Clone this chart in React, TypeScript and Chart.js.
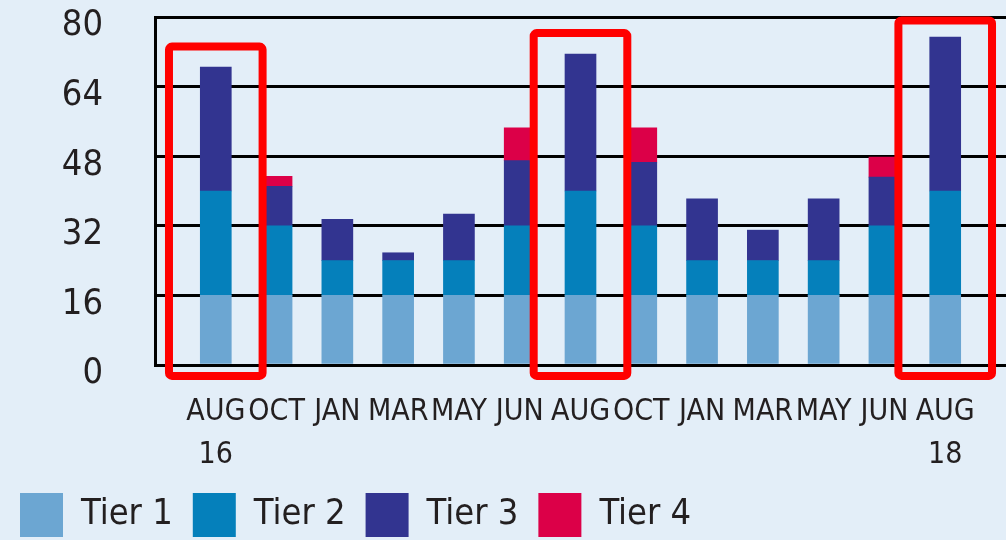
import React, { useEffect, useRef } from "react";
import { Chart, registerables } from "chart.js";

Chart.register(...registerables);

const CATEGORIES: (string | string[])[] = [
  ["AUG", "16"], "OCT", "JAN", "MAR", "MAY", "JUN",
  "AUG", "OCT", "JAN", "MAR", "MAY", "JUN", ["AUG", "18"],
];
const TIER1 = [16, 16, 16, 16, 16, 16, 16, 16, 16, 16, 16, 16, 16];
const TIER2 = [24, 16, 8, 8, 8, 16, 24, 16, 8, 8, 8, 16, 24];
const TIER3 = [28.5, 9.1, 9.5, 1.8, 10.7, 15, 31.5, 14.6, 14.2, 7, 14.2, 11.2, 35.4];
const TIER4 = [0, 2.3, 0, 0, 0, 7.5, 0, 7.9, 0, 0, 0, 4.6, 0];
const Y_TICKS = [0, 16, 32, 48, 64, 80];
const HIGHLIGHT_INDEX = [0, 6, 12];
const HIGHLIGHT_TOP = [73.2, 76.3, 79.2];
const HIGHLIGHT_BOTTOM = -2.5;

const COLORS = ["#6ca6d2", "#0580bb", "#323490", "#dc0048"];
const BG = "#e3eef8";
const TEXT = "#231f20";
const FONT = "'DejaVu Sans Condensed', 'DejaVu Sans', sans-serif";

export default function App() {
  const ref = useRef<HTMLCanvasElement | null>(null);

  useEffect(() => {
    if (!ref.current) return;
    const pad = (arr: number[]) => [null, ...arr.map((v) => (v === 0 ? null : v)), null];
    const labels = ["", ...CATEGORIES, ""];

    const bgPlugin = {
      id: "bg",
      beforeDraw(chart: any) {
        const { ctx, width, height } = chart;
        ctx.save();
        ctx.fillStyle = BG;
        ctx.fillRect(0, 0, width, height);
        ctx.restore();
      },
    };

    const boxPlugin = {
      id: "boxes",
      afterDatasetsDraw(chart: any) {
        const { ctx, scales } = chart;
        const xs = scales.x;
        const ys = scales.y;
        ctx.save();
        ctx.strokeStyle = "#ff0000";
        ctx.lineWidth = 8;
        HIGHLIGHT_INDEX.forEach((idx, k) => {
          const x0 = xs.getPixelForValue(idx + 1 - 0.77);
          const x1 = xs.getPixelForValue(idx + 1 + 0.77);
          const y0 = ys.getPixelForValue(HIGHLIGHT_TOP[k]);
          const y1 = ys.getPixelForValue(HIGHLIGHT_BOTTOM);
          ctx.beginPath();
          if (ctx.roundRect) ctx.roundRect(x0, y0, x1 - x0, y1 - y0, 3);
          else ctx.rect(x0, y0, x1 - x0, y1 - y0);
          ctx.stroke();
        });
        ctx.restore();
      },
    };

    const mk = (label: string, data: number[], i: number) => ({
      label,
      data: pad(data),
      backgroundColor: COLORS[i],
      borderWidth: 0,
      barThickness: 31,
    });

    const chart = new Chart(ref.current, {
      type: "bar",
      data: {
        labels,
        datasets: [
          mk("Tier 1", TIER1, 0),
          mk("Tier 2", TIER2, 1),
          mk("Tier 3", TIER3, 2),
          mk("Tier 4", TIER4, 3),
        ],
      },
      options: {
        animation: false,
        responsive: false,
        layout: { padding: { top: 17, left: 0, right: 0, bottom: 0 } },
        plugins: {
          tooltip: { enabled: false },
          legend: {
            display: true,
            position: "bottom",
            align: "start",
            labels: {
              boxWidth: 43,
              boxHeight: 44,
              padding: 20,
              color: TEXT,
              font: { family: FONT, size: 36 },
            },
          },
        },
        scales: {
          x: {
            stacked: true,
            offset: false,
            grid: { display: false, drawTicks: false },
            border: { display: false },
            ticks: {
              autoSkip: false,
              maxRotation: 0,
              minRotation: 0,
              padding: 26,
              color: TEXT,
              font: { family: FONT, size: 30, lineHeight: 1.433 },
            },
            afterFit(s: any) {
              s.height = 108;
              s.paddingLeft = 0;
              s.paddingRight = 0;
            },
          },
          y: {
            stacked: true,
            min: 0,
            max: 80,
            afterBuildTicks(s: any) {
              s.ticks = Y_TICKS.map((v) => ({ value: v }));
            },
            grid: { color: "#000000", lineWidth: 3, drawTicks: false },
            border: { display: true, color: "#000000", width: 3 },
            ticks: {
              padding: 52,
              labelOffset: 9,
              color: TEXT,
              font: { family: FONT, size: 36 },
            },
            afterFit(s: any) {
              s.width = 155;
              s.paddingTop = 0;
              s.paddingBottom = 0;
            },
          },
        },
      },
      plugins: [bgPlugin, boxPlugin],
    });
    return () => chart.destroy();
  }, []);

  return (
    <div style={{ position: "fixed", left: 0, top: 0, width: 1006, height: 547, background: BG }}>
      <canvas ref={ref} width={1006} height={547} style={{ display: "block" }} />
    </div>
  );
}
